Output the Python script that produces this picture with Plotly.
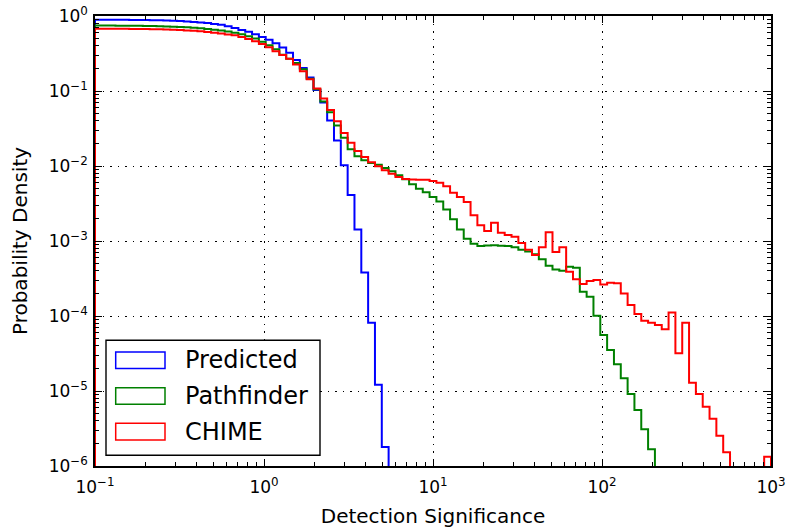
import numpy as np
import plotly.graph_objects as go

# Histogram bin edges: 100 log-spaced edges from 0.1 to 1000 (99 bins)
bin_edges = np.logspace(-1, 3, 100)

# Probability density per bin (0 = empty bin)
predicted = [0.891, 0.891, 0.891, 0.889, 0.889, 0.887, 0.885, 0.883, 0.879, 0.875,
             0.869, 0.863, 0.855, 0.845, 0.834, 0.820, 0.804, 0.785, 0.764, 0.728,
             0.692, 0.653, 0.617, 0.569, 0.525, 0.481, 0.432, 0.380, 0.324, 0.260,
             0.203, 0.151, 0.1035, 0.0705, 0.0405, 0.0219, 0.0102, 0.00412, 0.00142, 3.81e-4,
             8.15e-5, 1.21e-5, 1.79e-6] + [0] * 56

pathfinder = [0.745, 0.745, 0.745, 0.743, 0.743, 0.741, 0.740, 0.738, 0.735, 0.731,
              0.726, 0.721, 0.715, 0.706, 0.697, 0.685, 0.673, 0.658, 0.641, 0.622,
              0.600, 0.569, 0.537, 0.501, 0.455, 0.407, 0.360, 0.305, 0.270, 0.237,
              0.195, 0.146, 0.1054, 0.0724, 0.0522, 0.0348, 0.0238, 0.0167, 0.01346, 0.01189,
              0.01096, 0.01042, 0.0094, 0.00849, 0.00752, 0.00665, 0.0057, 0.00499, 0.00445, 0.00386,
              0.00337, 0.00264, 0.00195, 0.00142, 0.00107, 9.2e-4, 8.57e-4, 8.71e-4, 8.75e-4, 8.67e-4,
              8.59e-4, 8.28e-4, 7.62e-4, 7.24e-4, 6.64e-4, 5.70e-4, 4.68e-4, 4.17e-4, 4.02e-4, 4.52e-4,
              4.41e-4, 2.11e-4, 1.81e-4, 1.01e-4, 5.58e-5, 3.52e-5, 2.27e-5, 1.48e-5, 9.1e-6, 5.58e-6,
              3.08e-6, 1.67e-6] + [0] * 17

chime = [0.676, 0.676, 0.676, 0.675, 0.675, 0.673, 0.671, 0.670, 0.667, 0.664,
         0.661, 0.656, 0.650, 0.643, 0.634, 0.624, 0.612, 0.600, 0.585, 0.568,
         0.552, 0.525, 0.495, 0.459, 0.422, 0.382, 0.339, 0.302, 0.270, 0.225,
         0.183, 0.143, 0.1076, 0.0794, 0.0557, 0.0394, 0.0275, 0.0204, 0.01585, 0.01318,
         0.01119, 0.0099, 0.00875, 0.00791, 0.00714, 0.00671, 0.00661, 0.00658, 0.00658, 0.00631,
         0.00596, 0.00536, 0.00441, 0.00386, 0.00331, 0.0022, 0.00162, 0.00136, 0.00175, 0.00129,
         0.0012, 0.00114, 9.44e-4, 7.62e-4, 6.53e-4, 8.28e-4, 0.00131, 7.11e-4, 8.28e-4, 3.9e-4,
         3.08e-4, 2.67e-4, 2.93e-4, 3.02e-4, 2.64e-4, 2.78e-4, 2.73e-4, 2.0e-4, 1.4e-4, 1.06e-4,
         8.67e-5, 8.15e-5, 7.59e-5, 6.64e-5, 1.11e-4, 3.18e-5, 8.15e-5, 1.29e-5, 9.1e-6, 6.18e-6,
         4.28e-6, 2.54e-6, 1.52e-6, 0, 0, 0, 0, 0, 1.33e-6]

series_names = ["Predicted", "Pathfinder", "CHIME"]
series_colors = ["#0000ff", "#008000", "#ff0000"]
series_values = [predicted, pathfinder, chime]

tick_vals = [0.1, 1, 10, 100, 1000]
x_tick_text = ["10<sup>\u22121</sup>", "10<sup>0</sup>", "10<sup>1</sup>", "10<sup>2</sup>", "10<sup>3</sup>"]
y_tick_vals = [1e-6, 1e-5, 1e-4, 1e-3, 1e-2, 1e-1, 1]
y_tick_text = ["10<sup>\u22126</sup>", "10<sup>\u22125</sup>", "10<sup>\u22124</sup>", "10<sup>\u22123</sup>",
               "10<sup>\u22122</sup>", "10<sup>\u22121</sup>", "10<sup>0</sup>"]

FLOOR = 1e-12  # empty bins fall below the visible range (like log(0) in a step histogram)

fig = go.Figure()
for name, color, vals in zip(series_names, series_colors, series_values):
    v = np.array(vals, dtype=float)
    v = np.where(v > 0, v, FLOOR)
    xs = np.concatenate([[bin_edges[0]], bin_edges, [bin_edges[-1]]])
    ys = np.concatenate([[FLOOR], v, [v[-1], FLOOR]])
    fig.add_trace(go.Scatter(x=xs, y=ys, mode="lines", name=name,
                             line=dict(color=color, width=2, shape="hv"),
                             showlegend=False))

FONT = "DejaVu Sans"
minor_x = [m * 10.0 ** e for e in range(-1, 3) for m in range(2, 10)]
minor_y = [m * 10.0 ** e for e in range(-6, 0) for m in range(2, 10)]

axis_common = dict(
    type="log", showline=True, linecolor="black", linewidth=1.5, mirror="allticks",
    ticks="inside", ticklen=7, tickwidth=1, tickcolor="black",
    showgrid=True, gridcolor="black", gridwidth=1, griddash="1.5px,6px",
    tickfont=dict(family=FONT, size=17, color="black"),
    zeroline=False,
)

fig.update_xaxes(range=[-1, 3], tickvals=tick_vals, ticktext=x_tick_text,
                 ticklabelstandoff=5,
                 minor=dict(tickvals=minor_x, ticks="inside", ticklen=4, tickcolor="black",
                            tickwidth=1, showgrid=False),
                 title=dict(text="Detection Significance", font=dict(family=FONT, size=20, color="black"),
                            standoff=13),
                 **axis_common)
fig.update_yaxes(range=[-6, 0], tickvals=y_tick_vals, ticktext=y_tick_text,
                 ticklabelstandoff=2,
                 minor=dict(tickvals=minor_y, ticks="inside", ticklen=4, tickcolor="black",
                            tickwidth=1, showgrid=False),
                 title=dict(text="Probability Density", font=dict(family=FONT, size=20, color="black"),
                            standoff=16),
                 **axis_common)

# Manual legend (matplotlib-style patch legend)
W, H, L, B = 676.0, 450.0, 95.0, 465.7
def px(x):
    return (x - L) / W
def py(y):
    return (B - y) / H

shapes = [dict(type="rect", xref="paper", yref="paper", x0=px(106), x1=px(320), y0=py(455), y1=py(340),
               line=dict(color="black", width=1.4), fillcolor="white", layer="above")]
annotations = []
row_y = [360, 395.7, 431.3]
for name, color, ry in zip(series_names, series_colors, row_y):
    shapes.append(dict(type="rect", xref="paper", yref="paper", x0=px(115.7), x1=px(165),
                       y0=py(ry + 8.3), y1=py(ry - 8.3), line=dict(color=color, width=1.5),
                       fillcolor="rgba(0,0,0,0)", layer="above"))
    annotations.append(dict(xref="paper", yref="paper", x=px(183), y=py(ry), text=name,
                            showarrow=False, xanchor="left", yanchor="middle",
                            font=dict(family=FONT, size=24, color="black")))

fig.update_layout(
    width=789, height=531,
    margin=dict(l=95, r=18, t=16, b=65.3, autoexpand=False),
    paper_bgcolor="white", plot_bgcolor="white",
    font=dict(family=FONT, color="black"),
    shapes=shapes, annotations=annotations,
)

fig.write_html("out.html")
